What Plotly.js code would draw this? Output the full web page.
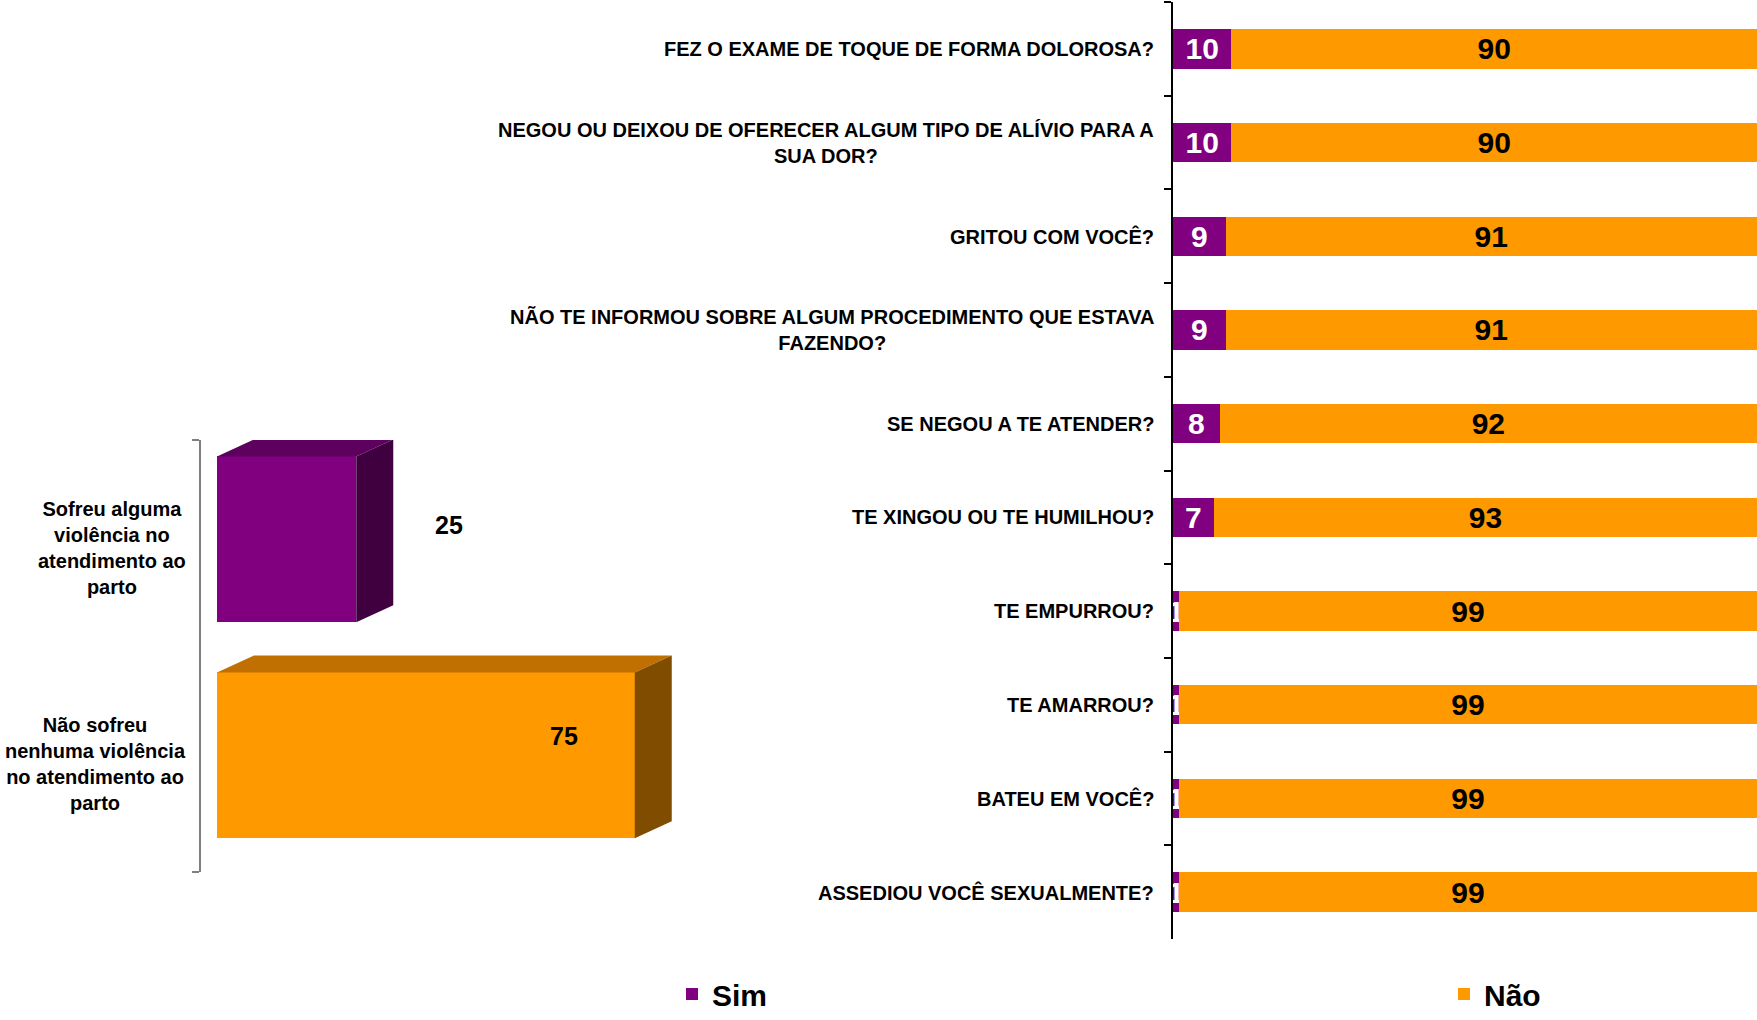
<!DOCTYPE html>
<html>
<head>
<meta charset="utf-8">
<script src="https://cdn.plot.ly/plotly-3.0.1.min.js"></script>
<style>
  html, body { margin: 0; padding: 0; background: #ffffff; overflow: hidden; }
  #chart { width: 1757px; height: 1020px; }
</style>
</head>
<body>
<div id="chart"></div>
<script>
// ---------------- DATA ----------------
const categories = [
  'FEZ O EXAME DE TOQUE DE FORMA DOLOROSA?',
  'NEGOU OU DEIXOU DE OFERECER ALGUM TIPO DE ALÍVIO PARA A<br>SUA DOR?',
  'GRITOU COM VOCÊ?',
  'NÃO TE INFORMOU SOBRE ALGUM PROCEDIMENTO QUE ESTAVA<br>FAZENDO?',
  'SE NEGOU A TE ATENDER?',
  'TE XINGOU OU TE HUMILHOU?',
  'TE EMPURROU?',
  'TE AMARROU?',
  'BATEU EM VOCÊ?',
  'ASSEDIOU VOCÊ SEXUALMENTE?'
];
const seriesNames = ['Sim', 'Não'];
const simValues = [10, 10, 9, 9, 8, 7, 1, 1, 1, 1];
const naoValues = [90, 90, 91, 91, 92, 93, 99, 99, 99, 99];

const overallLabels = [
  'Sofreu alguma<br>violência no<br>atendimento ao<br>parto',
  'Não sofreu<br>nenhuma violência<br>no atendimento ao<br>parto'
];
const overallValues = [25, 75];

// ---------------- STYLE ----------------
const W = 1757, H = 1020;
const FONT = 'Liberation Sans, Arial, sans-serif';
const PURPLE = '#800080', ORANGE = '#FF9900';
const frontColors = [PURPLE, ORANGE];
const topColors = ['#5E005E', '#C07000'];
const sideColors = ['#400040', '#7F4C00'];

// left (3D) chart geometry
const leftPxPerUnit = 5.57;
const leftX0 = 217;            // pixel of x = 0
const leftAxisPx = 200.6;      // pixel of bracket line
const leftRightPx = 720;
const leftYTop = 440, leftYBot = 872;
const leftBarWidth = 0.768;
const depthDx = 37 / leftPxPerUnit;   // depth in data units (x)
const depthDy = 17 / 216;             // depth in data units (y)
const leftLabelShiftX = [93, -71];
const leftLabelShiftY = [14, 19];

// right chart geometry
const rightAxisPx = 1173;
const rightYTop = 2, rightYBot = 939;

// ---------------- TRACES ----------------
const leftY = overallValues.map((v, i) => overallValues.length - 1 - i);

const traces = [
  {
    type: 'bar', orientation: 'h',
    x: overallValues, y: leftY,
    xaxis: 'x', yaxis: 'y',
    width: leftBarWidth,
    marker: { color: frontColors, line: { width: 0 } },
    showlegend: false, hoverinfo: 'x'
  },
  {
    type: 'bar', orientation: 'h', name: seriesNames[0], legend: 'legend',
    x: simValues, y: categories,
    xaxis: 'x2', yaxis: 'y2',
    marker: { color: PURPLE, line: { width: 0 } },
    text: simValues.map(String),
    textposition: 'inside', insidetextanchor: 'middle', constraintext: 'none', textangle: 0,
    textfont: { family: FONT, size: 30, color: '#ffffff', weight: 700 },
    hoverinfo: 'x'
  },
  {
    type: 'bar', orientation: 'h', name: seriesNames[1], legend: 'legend2',
    x: naoValues, y: categories,
    xaxis: 'x2', yaxis: 'y2',
    marker: { color: ORANGE, line: { width: 0 } },
    text: naoValues.map(String),
    textposition: 'inside', insidetextanchor: 'middle', constraintext: 'none', textangle: 0,
    textfont: { family: FONT, size: 30, color: '#000000', weight: 700 },
    hoverinfo: 'x'
  }
];

// ---------------- 3D FACES (shapes from data) ----------------
const shapes = [];
overallValues.forEach((v, i) => {
  const yc = leftY[i];
  const yt = yc + leftBarWidth / 2, yb = yc - leftBarWidth / 2;
  shapes.push({
    type: 'path', xref: 'x', yref: 'y', layer: 'above',
    path: `M0,${yt} L${v},${yt} L${v + depthDx},${yt + depthDy} L${depthDx},${yt + depthDy} Z`,
    fillcolor: topColors[i], line: { width: 0 }
  });
  shapes.push({
    type: 'path', xref: 'x', yref: 'y', layer: 'above',
    path: `M${v},${yt} L${v + depthDx},${yt + depthDy} L${v + depthDx},${yb + depthDy} L${v},${yb} Z`,
    fillcolor: sideColors[i], line: { width: 0 }
  });
});

// ---------------- ANNOTATIONS ----------------
const annotations = [];
overallValues.forEach((v, i) => {
  annotations.push({
    xref: 'x', yref: 'y', x: v, y: leftY[i],
    xshift: leftLabelShiftX[i], yshift: leftLabelShiftY[i],
    text: String(v), showarrow: false,
    font: { family: FONT, size: 25, color: '#000000', weight: 700 }
  });
  annotations.push({
    xref: 'paper', yref: 'y', x: 188 / W, y: leftY[i], yshift: -9,
    xanchor: 'right', yanchor: 'middle', align: 'center',
    text: overallLabels[i], showarrow: false,
    font: { family: FONT, size: 20, color: '#000000', weight: 700 }
  });
});
categories.forEach((c) => {
  annotations.push({
    xref: 'paper', yref: 'y2', x: 1156 / W, y: c,
    xanchor: 'right', yanchor: 'middle', align: 'center',
    text: c, showarrow: false,
    font: { family: FONT, size: 20, color: '#000000', weight: 700 }
  });
});

// ---------------- LAYOUT ----------------
const leftXMin = -(leftX0 - leftAxisPx) / leftPxPerUnit;
const leftXMax = (leftRightPx - leftX0) / leftPxPerUnit;
const leftYMin = -0.54, leftYMax = 1.46;

const legendFont = { family: FONT, size: 30, color: '#000000', weight: 700 };

const layout = {
  width: W, height: H,
  margin: { l: 0, r: 0, t: 0, b: 0 },
  paper_bgcolor: '#ffffff', plot_bgcolor: 'rgba(0,0,0,0)',
  font: { family: FONT, color: '#000000' },
  barmode: 'stack', bargap: 0.58,
  showlegend: true,
  legend: {
    orientation: 'h', x: 672 / W, y: 0,
    xanchor: 'left', yanchor: 'bottom',
    font: legendFont, bgcolor: 'rgba(0,0,0,0)', borderwidth: 0
  },
  legend2: {
    orientation: 'h', x: 1444 / W, y: 0,
    xanchor: 'left', yanchor: 'bottom',
    font: legendFont, bgcolor: 'rgba(0,0,0,0)', borderwidth: 0
  },
  xaxis: {
    domain: [leftAxisPx / W, leftRightPx / W],
    range: [leftXMin, leftXMax], visible: false, fixedrange: true
  },
  yaxis: {
    domain: [1 - leftYBot / H, 1 - leftYTop / H],
    range: [leftYMin, leftYMax],
    showline: true, linecolor: '#7f7f7f', linewidth: 1.5,
    ticks: 'outside', ticklen: 7, tickwidth: 1.5, tickcolor: '#7f7f7f',
    tickvals: [leftYMin, leftYMax], showticklabels: false,
    showgrid: false, zeroline: false, fixedrange: true
  },
  xaxis2: {
    domain: [rightAxisPx / W, 1], anchor: 'y2',
    range: [0, 100], visible: false, fixedrange: true
  },
  yaxis2: {
    domain: [1 - rightYBot / H, 1 - rightYTop / H], anchor: 'x2',
    type: 'category', autorange: 'reversed',
    showline: true, linecolor: '#000000', linewidth: 2,
    ticks: 'outside', tickson: 'boundaries', ticklen: 7, tickwidth: 2, tickcolor: '#000000',
    showticklabels: false, showgrid: false, zeroline: false, fixedrange: true
  },
  shapes: shapes,
  annotations: annotations
};

Plotly.newPlot('chart', traces, layout, { displayModeBar: false, staticPlot: true });
</script>
</body>
</html>
